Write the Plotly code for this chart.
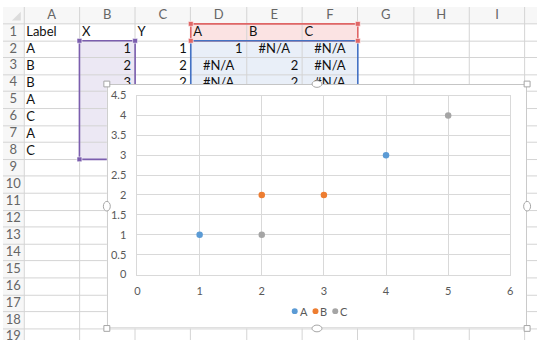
import plotly.graph_objects as go

# ---- worksheet data ----
labels = ["A", "B", "B", "A", "C", "A", "C"]
x_vals = [1, 2, 3, 4, 5, None, 2]
y_vals = [1, 2, 2, 3, 4, None, 1]
series_names = ["A", "B", "C"]
series_colors = ["#5B9BD5", "#ED7D31", "#A5A5A5"]
col_letters = ["A", "B", "C", "D", "E", "F", "G", "H", "I"]
header_row = ["Label", "X", "Y"]
x_ticks = [0, 1, 2, 3, 4, 5, 6]
y_ticks = [0, 0.5, 1, 1.5, 2, 2.5, 3, 3.5, 4, 4.5]
y_tick_labels = ["0", "0.5", "1", "1.5", "2", "2.5", "3", "3.5", "4", "4.5"]

# ---- sheet geometry (pixels) ----
W, H = 540, 346
ROWHDR_W = 21.0
COL_W = 56.3
HDR_H = 17.5
ROW_H = 17.6
N_ROWS = 19
FONT = "Lato"
GRID = "#D4D4D4"
HDR_TXT = "#666666"


def col_left(i):
    return ROWHDR_W + i * COL_W


def row_top(r):
    return HDR_H + (r - 1) * ROW_H


def crisp(v):
    return int(v) + 0.5


# chart frame and plot area in sheet pixels
FR_L, FR_R, FR_T, FR_B = 105, 530, 80, 334
PA_L, PA_R, PA_T, PA_B = 136, 513, 92, 278

shapes = []

# header bands
shapes.append(dict(type="rect", xref="x", yref="y", x0=0, x1=W, y0=0, y1=HDR_H,
                   fillcolor="#F7F7F7", line=dict(width=0), layer="below"))
shapes.append(dict(type="rect", xref="x", yref="y", x0=0, x1=ROWHDR_W, y0=0, y1=H,
                   fillcolor="#F7F7F7", line=dict(width=0), layer="below"))

# range fills
shapes.append(dict(type="rect", xref="x", yref="y", x0=col_left(3), x1=col_left(6),
                   y0=row_top(1), y1=row_top(2), fillcolor="#FBE3E3",
                   line=dict(width=0), layer="below"))
shapes.append(dict(type="rect", xref="x", yref="y", x0=col_left(3), x1=col_left(6),
                   y0=row_top(2), y1=row_top(9), fillcolor="#E9EFF8",
                   line=dict(width=0), layer="below"))
shapes.append(dict(type="rect", xref="x", yref="y", x0=col_left(1), x1=col_left(2),
                   y0=row_top(2), y1=row_top(9), fillcolor="#ECE8F4",
                   line=dict(width=0), layer="below"))

# gridlines
for i in range(10):
    xv = crisp(col_left(i))
    shapes.append(dict(type="line", xref="x", yref="y", x0=xv, x1=xv, y0=0, y1=H,
                       line=dict(color=GRID, width=1), layer="below"))
for r in range(1, N_ROWS + 2):
    yv = crisp(row_top(r))
    shapes.append(dict(type="line", xref="x", yref="y", x0=0, x1=W, y0=yv, y1=yv,
                       line=dict(color=GRID, width=1), layer="below"))

# select-all corner triangle
shapes.append(dict(type="path", xref="x", yref="y",
                   path="M 18 5 L 18 14 L 9 14 Z", fillcolor="#DCDCDC",
                   line=dict(width=0), layer="below"))


# range borders
def box(x0, x1, y0, y1, color):
    shapes.append(dict(type="rect", xref="x", yref="y", x0=x0, x1=x1, y0=y0, y1=y1,
                       line=dict(color=color, width=1.6), fillcolor="rgba(0,0,0,0)",
                       layer="below"))


def handle(xc, yc, color):
    shapes.append(dict(type="rect", xref="x", yref="y", x0=xc - 2.5, x1=xc + 2.5,
                       y0=yc - 2.5, y1=yc + 2.5, fillcolor=color,
                       line=dict(color="white", width=0.6), layer="below"))


RED, BLUE, PURPLE = "#E06666", "#4472C4", "#7B5EAE"
box(col_left(3), col_left(6), row_top(1), row_top(2), RED)
box(col_left(3), col_left(6), row_top(2), row_top(9), BLUE)
box(col_left(1), col_left(2), row_top(2), row_top(9), PURPLE)
for xc in (col_left(3), col_left(6)):
    for yc in (row_top(1), row_top(2)):
        handle(xc, yc, RED)
for xc in (col_left(1), col_left(2)):
    for yc in (row_top(2), row_top(9)):
        handle(xc, yc, PURPLE)

# chart frame (lives on its own subplot so it covers the sheet text)
shapes.append(dict(type="rect", xref="x2", yref="y2", x0=FR_L + 0.5, x1=FR_R - 0.5,
                   y0=FR_T + 0.5, y1=FR_B - 0.5, fillcolor="white",
                   line=dict(color="#C4C4C4", width=1), layer="below"))

# chart selection handles
for xc, yc in [(FR_L, FR_T), (FR_R, FR_T), (FR_L, FR_B), (FR_R, FR_B)]:
    shapes.append(dict(type="rect", xref="x", yref="y", x0=xc - 3, x1=xc + 3,
                       y0=yc - 3, y1=yc + 3, fillcolor="white",
                       line=dict(color="#A6A6A6", width=1), layer="above"))
mid_x = (FR_L + FR_R) / 2
mid_y = (FR_T + FR_B) / 2
for xc, yc, w, h in [(mid_x, FR_T, 5, 3.5), (mid_x, FR_B, 5, 3.5),
                     (FR_L, mid_y, 3.5, 5), (FR_R, mid_y, 3.5, 5)]:
    shapes.append(dict(type="circle", xref="x", yref="y", x0=xc - w, x1=xc + w,
                       y0=yc - h, y1=yc + h, fillcolor="white",
                       line=dict(color="#A6A6A6", width=1), layer="above"))

# ---- sheet text ----
tx, ty, tt, tp, tc = [], [], [], [], []


def put(text, x, y, pos, color="#111111"):
    # cells lying wholly under the chart frame are not drawn
    if x > FR_L and y > FR_T + 6:
        return
    tx.append(x)
    ty.append(y)
    tt.append(text)
    tp.append(pos)
    tc.append(color)


for i, letter in enumerate(col_letters):
    put(letter, col_left(i) + COL_W / 2, HDR_H / 2 + 0.5, "middle center", HDR_TXT)
for r in range(1, N_ROWS + 1):
    put(str(r), ROWHDR_W / 2, row_top(r) + ROW_H / 2, "middle center", HDR_TXT)


def left_cell(text, c, r):
    put(text, col_left(c) + 2.5, row_top(r) + ROW_H / 2 + 0.5, "middle right")


def right_cell(text, c, r):
    put(text, col_left(c + 1) - 4, row_top(r) + ROW_H / 2 + 0.5, "middle left")


def center_cell(text, c, r):
    put(text, col_left(c) + COL_W / 2, row_top(r) + ROW_H / 2 + 0.5, "middle center")


for c, text in enumerate(header_row + series_names):
    left_cell(text, c, 1)

for k, lab in enumerate(labels):
    r = k + 2
    left_cell(lab, 0, r)
    if x_vals[k] is None:
        continue
    right_cell(str(x_vals[k]), 1, r)
    right_cell(str(y_vals[k]), 2, r)
    for s, name in enumerate(series_names):
        if lab == name:
            right_cell(str(y_vals[k]), 3 + s, r)
        else:
            center_cell("#N/A", 3 + s, r)

fig = go.Figure()

fig.add_trace(go.Scatter(x=tx, y=ty, text=tt, mode="text", textposition=tp,
                         textfont=dict(family=FONT, size=13, color=tc),
                         hoverinfo="skip", showlegend=False, cliponaxis=False,
                         xaxis="x", yaxis="y"))

# ---- scatter chart ----
for name, color in zip(series_names, series_colors):
    xs = [x for x, lab in zip(x_vals, labels) if lab == name and x is not None]
    ys = [y for y, lab in zip(y_vals, labels) if lab == name and y is not None]
    fig.add_trace(go.Scatter(x=xs, y=ys, mode="markers", name=name,
                             marker=dict(size=6.5, color=color),
                             xaxis="x3", yaxis="y3", showlegend=False))

# legend row under the chart
legend_y = 316
legend_items = [(295, "A"), (316, "B"), (336, "C")]
annotations = []
for (lx, name), color in zip(legend_items, series_colors):
    shapes.append(dict(type="circle", xref="x", yref="y", x0=lx - 3, x1=lx + 3,
                       y0=legend_y - 3, y1=legend_y + 3, fillcolor=color,
                       line=dict(width=0), layer="above"))
    annotations.append(dict(x=lx + 3, y=legend_y, xref="x", yref="y", text=name,
                            showarrow=False, xanchor="left", yanchor="middle",
                            font=dict(family=FONT, size=11, color="#595959")))

hidden = dict(visible=False, showgrid=False, zeroline=False, fixedrange=True)

fig.update_layout(
    width=W, height=H,
    margin=dict(l=0, r=0, t=0, b=0, pad=0),
    paper_bgcolor="white", plot_bgcolor="white",
    showlegend=False,
    shapes=shapes,
    annotations=annotations,
    xaxis=dict(domain=[0, 1], range=[0, W], anchor="y", **hidden),
    yaxis=dict(domain=[0, 1], range=[H, 0], anchor="x", **hidden),
    xaxis2=dict(domain=[FR_L / W, FR_R / W], range=[FR_L, FR_R], anchor="y2", **hidden),
    yaxis2=dict(domain=[1 - FR_B / H, 1 - FR_T / H], range=[FR_B, FR_T], anchor="x2", **hidden),
    xaxis3=dict(domain=[PA_L / W, PA_R / W], range=[0, 6], anchor="y3",
                tickvals=x_ticks, ticktext=[str(v) for v in x_ticks],
                showgrid=True, gridcolor="#D9D9D9", gridwidth=1, zeroline=False,
                showline=True, mirror=True, linecolor="#D9D9D9", linewidth=1,
                ticks="", ticklabelstandoff=6,
                tickfont=dict(family=FONT, size=11, color="#595959"), fixedrange=True),
    yaxis3=dict(domain=[1 - PA_B / H, 1 - PA_T / H], range=[0, 4.5], anchor="x3",
                tickvals=y_ticks, ticktext=y_tick_labels,
                showgrid=True, gridcolor="#D9D9D9", gridwidth=1, zeroline=False,
                showline=True, mirror=True, linecolor="#D9D9D9", linewidth=1,
                ticks="", ticklabelstandoff=8,
                tickfont=dict(family=FONT, size=11, color="#595959"), fixedrange=True),
)

fig.write_html("out.html")
